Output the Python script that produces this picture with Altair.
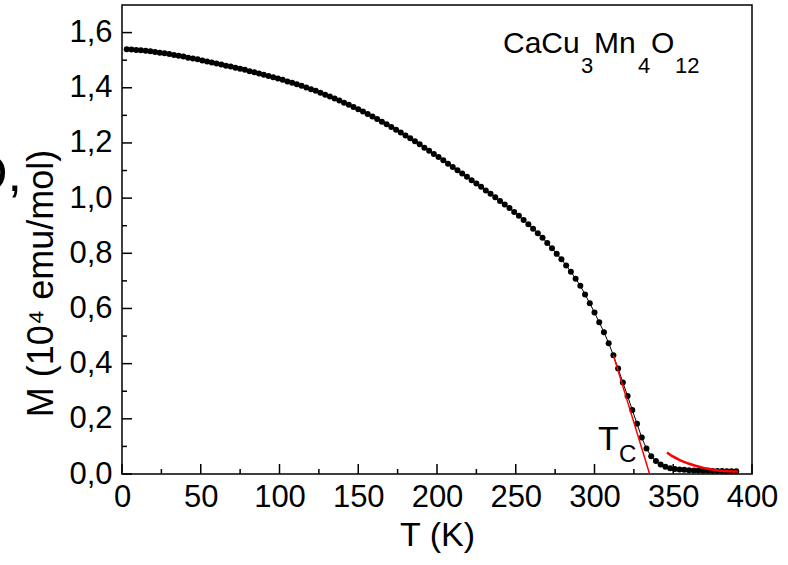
import altair as alt
import pandas as pd

# ---- data ----
T = [3, 6, 9, 12, 15, 18, 21, 24, 27, 30, 33, 36, 39, 42, 45, 48, 51, 54, 57, 60,
     63, 66, 69, 72, 75, 78, 81, 84, 87, 90, 93, 96, 99, 102, 105, 108, 111, 114, 117, 120,
     123, 126, 129, 132, 135, 138, 141, 144, 147, 150, 153, 156, 159, 162, 165, 168, 171, 174, 177, 180,
     183, 186, 189, 192, 195, 198, 201, 204, 207, 210, 213, 216, 219, 222, 225, 228, 231, 234, 237, 240,
     243, 246, 249, 252, 255, 258, 261, 264, 267, 270, 273, 276, 279, 282, 285, 288, 291, 294, 297, 300,
     303, 306, 309, 312, 315, 318, 321, 324, 327, 330, 333, 336, 339, 342, 345, 348, 351, 354, 357, 360,
     363, 366, 369, 372, 375, 378, 381, 384, 387, 390]
M = [1.540, 1.539, 1.537, 1.536, 1.534, 1.532, 1.530, 1.527, 1.525, 1.522,
     1.519, 1.516, 1.513, 1.509, 1.506, 1.503, 1.499, 1.495, 1.492, 1.488,
     1.484, 1.480, 1.477, 1.473, 1.469, 1.465, 1.460, 1.456, 1.452, 1.447,
     1.443, 1.438, 1.434, 1.429, 1.423, 1.418, 1.413, 1.407, 1.401, 1.395,
     1.389, 1.382, 1.375, 1.368, 1.361, 1.354, 1.346, 1.338, 1.330, 1.322,
     1.314, 1.305, 1.296, 1.287, 1.277, 1.268, 1.258, 1.248, 1.238, 1.227,
     1.217, 1.206, 1.195, 1.183, 1.172, 1.160, 1.149, 1.137, 1.125, 1.113,
     1.101, 1.089, 1.077, 1.065, 1.053, 1.041, 1.028, 1.016, 1.003, 0.990,
     0.977, 0.964, 0.950, 0.936, 0.921, 0.905, 0.889, 0.873, 0.856, 0.837,
     0.818, 0.798, 0.778, 0.756, 0.733, 0.708, 0.682, 0.651, 0.619, 0.585,
     0.550, 0.514, 0.474, 0.430, 0.382, 0.332, 0.283, 0.232, 0.182, 0.132,
     0.092, 0.064, 0.047, 0.034, 0.026, 0.021, 0.018, 0.016, 0.015, 0.014,
     0.013, 0.013, 0.012, 0.012, 0.011, 0.011, 0.011, 0.010, 0.010, 0.010]

fit_line_T = [312, 335]
fit_line_M = [0.43, 0.0]

fit_curve_T = [346, 348, 350, 353, 356, 360, 364, 368, 372, 376, 380, 385, 391]
fit_curve_M = [0.078, 0.070, 0.063, 0.054, 0.046, 0.037, 0.030, 0.024, 0.019, 0.015, 0.012, 0.010, 0.009]

x_major = [0, 50, 100, 150, 200, 250, 300, 350, 400]
x_minor = [25, 75, 125, 175, 225, 275, 325, 375]
y_major = [0.0, 0.2, 0.4, 0.6, 0.8, 1.0, 1.2, 1.4, 1.6]
y_minor = [0.1, 0.3, 0.5, 0.7, 0.9, 1.1, 1.3, 1.5]

W, H = 630, 469
FONT = "Liberation Sans Narrow, Liberation Sans, Arial, sans-serif"
FONT2 = "Liberation Sans, Arial, sans-serif"

xs = alt.Scale(domain=[0, 400], nice=False, zero=False)
ys = alt.Scale(domain=[0, 1.7], nice=False, zero=False)

x_axis = alt.Axis(
    values=x_major, ticks=False, domain=False, grid=False,
    labelFont=FONT, labelFontSize=31, labelColor="black", labelPadding=8,
    labelFlush=False, labelOverlap=False,
    title="T (K)", titleFont=FONT, titleFontSize=34, titleFontWeight="normal",
    titleColor="black", titleX=W / 2, titleY=71, titleBaseline="alphabetic",
    titleAlign="center")
y_axis = alt.Axis(
    values=y_major, ticks=False, domain=False, grid=False,
    labelExpr="replace(format(datum.value, '.1f'), '.', ',')",
    labelFont=FONT, labelFontSize=31, labelColor="black", labelPadding=10,
    labelFlush=False, labelOverlap=False,
    title="M (10⁴ emu/mol)", titleFont=FONT, titleFontSize=36, titleFontWeight="normal",
    titleColor="black", titleAngle=270, titleX=-70, titleY=278,
    titleBaseline="alphabetic", titleAlign="center")

df = pd.DataFrame({"T": T, "M": M})
df_line = pd.DataFrame({"T": fit_line_T, "M": fit_line_M})
df_curve = pd.DataFrame({"T": fit_curve_T, "M": fit_curve_M})

def yticks(vals, length):
    return alt.Chart(pd.DataFrame({"M": vals})).mark_rule(color="black", strokeWidth=1.5).encode(
        y=alt.Y("M:Q", scale=ys, axis=y_axis), x=alt.value(0), x2=alt.value(length))

def xticks(vals, length):
    return alt.Chart(pd.DataFrame({"T": vals})).mark_rule(color="black", strokeWidth=1.5).encode(
        x=alt.X("T:Q", scale=xs, axis=x_axis), y=alt.value(H), y2=alt.value(H - length))

conn = alt.Chart(df).mark_line(color="black", strokeWidth=1).encode(
    x=alt.X("T:Q", scale=xs, axis=x_axis), y=alt.Y("M:Q", scale=ys, axis=y_axis))
dots = alt.Chart(df).mark_circle(color="black", size=36, opacity=1).encode(
    x=alt.X("T:Q", scale=xs, axis=x_axis), y=alt.Y("M:Q", scale=ys, axis=y_axis))
red_line = alt.Chart(df_line).mark_line(color="red", strokeWidth=1.5).encode(
    x=alt.X("T:Q", scale=xs, axis=x_axis), y=alt.Y("M:Q", scale=ys, axis=y_axis))
red_curve = alt.Chart(df_curve).mark_line(color="red", strokeWidth=2.5, interpolate="monotone").encode(
    x=alt.X("T:Q", scale=xs, axis=x_axis), y=alt.Y("M:Q", scale=ys, axis=y_axis))

dummy = pd.DataFrame({"a": [0]})

def label(txt, px, py, size, font=FONT, align="left"):
    return alt.Chart(dummy).mark_text(
        align=align, baseline="alphabetic", font=font, fontSize=size, color="black"
    ).encode(x=alt.value(px), y=alt.value(py), text=alt.value(txt))

texts = [
    label("CaCu", 381, 48, 30, FONT2),
    label("3", 459, 68, 22, FONT2),
    label("Mn", 472, 48, 30, FONT2),
    label("4", 516, 68, 22, FONT2),
    label("O", 529, 48, 30, FONT2),
    label("12", 553, 68, 22, FONT2),
    label("T", 476, 445, 34),
    label("C", 497, 457, 24),
    label("D,", -100, 186, 52, FONT2, align="right"),
]

chart = alt.layer(
    yticks(y_major, 10), yticks(y_minor, 5), xticks(x_major, 10), xticks(x_minor, 5),
    conn, dots, red_line, red_curve, *texts
).properties(
    width=W, height=H,
    padding={"left": 122, "top": 5, "right": 36, "bottom": 91},
    autosize=alt.AutoSizeParams(type="none"),
    background="white",
).configure_view(stroke="black", strokeWidth=1.5)

chart.save("out.html", embed_options={"renderer": "svg", "actions": False})
